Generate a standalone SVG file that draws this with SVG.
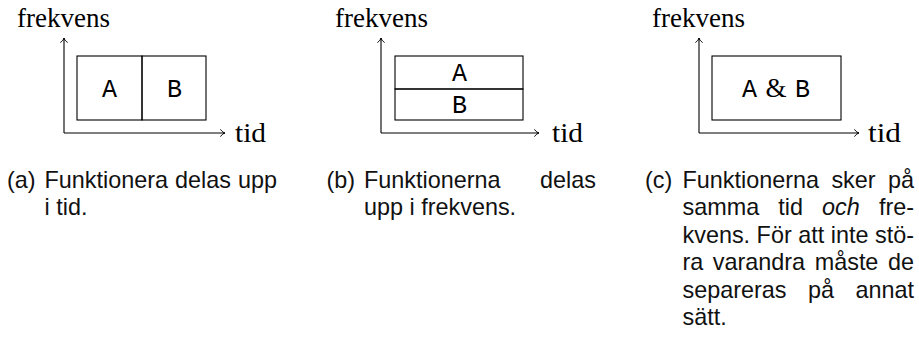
<svg xmlns="http://www.w3.org/2000/svg" width="919" height="340" viewBox="0 0 919 340">
<style>
.ax{fill:none;stroke:#000;stroke-width:1.1;marker-end:url(#arr)}
.box{fill:none;stroke:#000;stroke-width:1.1}
.lab{font-family:"Liberation Serif",serif;font-size:27px;fill:#000}
.tt{font-family:"Liberation Mono",monospace;font-size:25px;fill:#000;text-anchor:middle}
.amp{font-family:"Liberation Serif",serif;font-size:27px;fill:#000;text-anchor:middle}
.cap{font-family:"Liberation Sans",Arial,sans-serif;font-size:23.4px;fill:#111}
</style>
<defs>
<marker id="arr" markerUnits="userSpaceOnUse" markerWidth="12" markerHeight="12" viewBox="-6 -6 12 12" refX="0" refY="0" orient="auto" overflow="visible">
<path d="M-4.5,-3.6 C-3,-1.3 -1.2,-0.3 0,0 C-1.2,0.3 -3,1.3 -4.5,3.6" fill="none" stroke="#000" stroke-width="1"/>
</marker>
</defs>

<g id="connectors">
<path class="ax" d="M64,133 L64,38"/>
<path class="ax" d="M64,133 L225,133"/>
<path class="ax" d="M381,133 L381,38"/>
<path class="ax" d="M381,133 L539,133"/>
<path class="ax" d="M699,133 L699,38"/>
<path class="ax" d="M699,133 L859,133"/>
</g>

<g id="panel-a">
<text class="lab" x="17" y="27">frekvens</text>
<text class="lab" x="235" y="141.5" textLength="31" lengthAdjust="spacingAndGlyphs">tid</text>
<g id="a-box-A"><rect class="box" x="77" y="56" width="65" height="64"/><text class="tt" x="109.5" y="96.5">A</text></g>
<g id="a-box-B"><rect class="box" x="142" y="56" width="64" height="64"/><text class="tt" x="174.5" y="96.5">B</text></g>
</g>

<g id="panel-b">
<text class="lab" x="335" y="27">frekvens</text>
<text class="lab" x="552" y="141.5" textLength="31" lengthAdjust="spacingAndGlyphs">tid</text>
<g id="b-box-A"><rect class="box" x="395" y="56" width="128" height="33"/><text class="tt" x="459.5" y="81">A</text></g>
<g id="b-box-B"><rect class="box" x="395" y="89" width="128" height="31"/><text class="tt" x="459.5" y="112.5">B</text></g>
</g>

<g id="panel-c">
<text class="lab" x="652" y="27">frekvens</text>
<text class="lab" x="868" y="141.5" textLength="33" lengthAdjust="spacingAndGlyphs">tid</text>
<g id="c-box-AB"><rect class="box" x="712" y="56" width="129" height="64"/>
<text class="tt" x="749.5" y="96.5">A</text>
<text class="amp" x="776" y="96.5">&amp;</text>
<text class="tt" x="802.5" y="96.5">B</text></g>
</g>

<g id="caption-a" class="cap">
<text x="7" y="187.5">(a)</text>
<text y="187.5"><tspan x="44.5">Funktionera</tspan><tspan x="175">delas</tspan><tspan x="238">upp</tspan></text>
<text x="44.5" y="215">i tid.</text>
</g>

<g id="caption-b" class="cap">
<text x="326.5" y="187.5">(b)</text>
<text y="187.5"><tspan x="364">Funktionerna</tspan><tspan x="540">delas</tspan></text>
<text x="364" y="215">upp i frekvens.</text>
</g>

<g id="caption-c" class="cap">
<text x="645" y="187.5">(c)</text>
<text y="187.5"><tspan x="682.5">Funktionerna</tspan><tspan x="831.4">sker</tspan><tspan x="888">på</tspan></text>
<text y="215"><tspan x="682.5">samma</tspan><tspan x="778.3">tid</tspan><tspan x="822.1" font-style="italic">och</tspan><tspan x="878.9">fre-</tspan></text>
<text y="242.5"><tspan x="682.5">kvens.</tspan><tspan x="756.6">För</tspan><tspan x="798.2">att</tspan><tspan x="830.8">inte</tspan><tspan x="875">stö-</tspan></text>
<text y="270"><tspan x="682.5">ra</tspan><tspan x="712.8">varandra</tspan><tspan x="814.7">måste</tspan><tspan x="888">de</tspan></text>
<text y="297.5"><tspan x="682.5">separeras</tspan><tspan x="808">på</tspan><tspan x="855.5">annat</tspan></text>
<text x="682.5" y="325">sätt.</text>
</g>
</svg>
